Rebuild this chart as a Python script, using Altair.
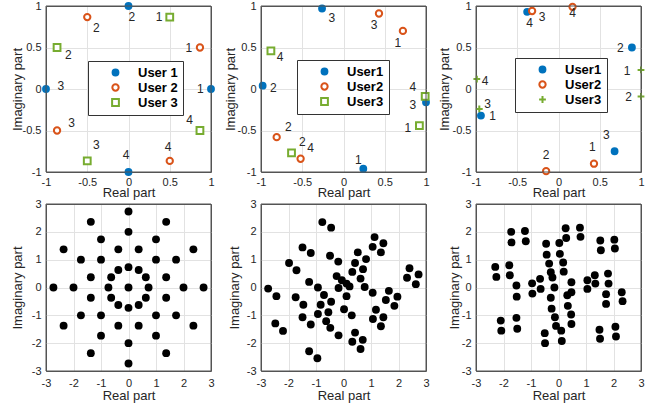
import altair as alt
import pandas as pd

FONT = "Liberation Sans"
TXT = "#262626"
BLUE, ORANGE, GREEN = "#0072BD", "#D95319", "#77AC30"
PLUS = "M-1,0H1M0,-1V1"
FRAME = "#555555"
GRID = "#e2e2e2"

TOP_TICKS = [-1, -0.5, 0, 0.5, 1]
BOT_TICKS = [-3, -2, -1, 0, 1, 2, 3]
POINT_LABELS = ["1", "2", "3", "4"]

# ---- panel 1 ----
P1_USERS = ["User 1", "User 2", "User 3"]
P1_X = [[1.0, 0.0, -1.0, 0.0], [0.866, -0.5, -0.866, 0.5], [0.5, -0.866, -0.5, 0.866]]
P1_Y = [[0.0, 1.0, 0.0, -1.0], [0.5, 0.866, -0.5, -0.866], [0.866, 0.5, -0.866, -0.5]]
P1_LX = [[0.87, 0.04, -0.82, -0.03], [0.73, -0.39, -0.69, 0.48], [0.37, -0.73, -0.39, 0.74]]
P1_LY = [[0.0, 0.87, 0.04, -0.8], [0.49, 0.74, -0.41, -0.7], [0.87, 0.41, -0.68, -0.37]]

# ---- panel 2 ----
P2_USERS = ["User1", "User2", "User3"]
P2_X = [[0.24, -0.98, -0.26, 1.0], [0.72, -0.81, 0.43, -0.52], [0.92, -0.63, 0.99, -0.88]]
P2_Y = [[-0.96, 0.04, 0.97, -0.16], [0.7, -0.58, 0.91, -0.84], [-0.44, -0.77, -0.09, 0.46]]
P2_LX = [[0.18, -0.85, -0.14, 0.84], [0.66, -0.67, 0.37, -0.40], [0.78, -0.50, 0.84, -0.77]]
P2_LY = [[-0.86, 0.01, 0.85, 0.03], [0.56, -0.46, 0.77, -0.71], [-0.47, -0.64, -0.19, 0.39]]

# ---- panel 3 ----
P3_USERS = ["User1", "User2", "User3"]
P3_X = [[-0.94, 0.89, 0.68, -0.38], [0.43, -0.15, -0.32, 0.17], [1.0, 1.0, -0.96, -0.99]]
P3_Y = [[-0.32, 0.5, -0.75, 0.93], [-0.9, -0.99, 0.94, 0.99], [0.23, -0.09, -0.24, 0.12]]
P3_LX = [[-0.8, 0.75, 0.58, -0.35], [0.41, -0.15, -0.2, 0.17], [0.83, 0.85, -0.86, -0.89]]
P3_LY = [[-0.33, 0.5, -0.56, 0.79], [-0.7, -0.79, 0.87, 0.91], [0.22, -0.1, -0.18, 0.1]]

# ---- panel 4 ----
P4_X = [2.73, 2.36, 1.37, 0, -1.37, -2.36, -2.73, -2.36, -1.37, 0, 1.37, 2.36,
        2.0, 1.73, 1.0, 0, -1.0, -1.73, -2.0, -1.73, -1.0, 0, 1.0, 1.73,
        1.37, 1.0, 0.37, -0.37, -1.0, -1.37, -1.37, -1.0, -0.37, 0.37, 1.0, 1.37,
        0.73, 0.63, 0.37, 0, -0.37, -0.63, -0.73, -0.63, -0.37, 0, 0.37, 0.63, 0]
P4_Y = [0, 1.37, 2.36, 2.73, 2.36, 1.37, 0, -1.37, -2.36, -2.73, -2.36, -1.37,
        0, 1.0, 1.73, 2.0, 1.73, 1.0, 0, -1.0, -1.73, -2.0, -1.73, -1.0,
        0.37, 1.0, 1.37, 1.37, 1.0, 0.37, -0.37, -1.0, -1.37, -1.37, -1.0, -0.37,
        0, 0.37, 0.63, 0.73, 0.63, 0.37, 0, -0.37, -0.63, -0.73, -0.63, -0.37, 0]

# ---- panel 5 ----
P5_X = [-0.77, -0.45, -1.49, -1.19, 1.13, 1.45, 1.06, 1.36, -1.98, -1.71,
        -0.49, -0.19, 0.52, 0.82, 0.42, 0.71, 0.32, 0.62,
        -0.25, -0.06, 0.11, 0.22, 2.40, 2.73, 2.31, 2.63,
        -1.25, -0.93, -2.74, -2.44, -0.71, -0.45, -1.74, -1.46,
        -0.18, 0.11, 0.77, 1.06, 1.65, 1.96, 1.54, 1.85,
        -0.83, -0.55, -0.93, -0.63, -1.49, -1.19, 0.02, 0.30,
        -0.48, -0.18, 1.18, 1.45, 1.07, 1.36, -2.48, -2.20,
        0.42, 0.70, 0.32, 0.62, -1.25, -0.95]
P5_Y = [2.35, 2.15, 1.44, 1.24, 1.81, 1.59, 1.46, 1.26, 0.88, 0.62,
        1.14, 0.93, 1.26, 1.02, 0.88, 0.66, 0.56, 0.32,
        0.41, 0.26, 0.14, 0.04, 0.69, 0.47, 0.35, 0.12,
        0.20, 0.0, -0.04, -0.31, -0.27, -0.51, -0.35, -0.62,
        -0.02, -0.31, 0.02, -0.19, -0.12, -0.33, -0.45, -0.66,
        -0.62, -0.89, -0.95, -1.21, -1.07, -1.33, -0.78, -1.0,
        -1.45, -1.72, -0.8, -1.07, -1.13, -1.39, -1.29, -1.56,
        -1.62, -1.88, -1.95, -2.21, -2.29, -2.54]

# ---- panel 6 ----
P6_X = [-2.30, -2.26, -1.79, -1.77, -1.53, -1.52, -0.96, -0.95, -0.67, -0.65,
        -0.45, -0.43, -0.34, -0.28, -0.22, -0.15, -0.28, -0.25, -0.13, -0.09,
        0.10, 0.12, -0.50, -0.49, 0.03, 0.05, 0.17, 0.19, 0.47, 0.47,
        0.32, 0.34, 0.46, 0.47, 0.26, 0.28, 0.78, 0.80, 1.05, 1.05,
        1.32, 1.34, 1.80, 1.82, 1.73, 1.73, 2.30, 2.33, 1.52, 1.54,
        2.03, 2.05, 1.49, 1.51, 2.07, 2.09, -2.10, -2.08, -1.53, -1.50,
        -1.72, -1.71, -1.22, -1.19]
P6_Y = [0.74, 0.38, 0.80, 0.44, 0.07, -0.33, 0.15, -0.22, 0.31, -0.05,
        1.57, 1.18, 0.86, 0.55, 0.36, 0.0, -0.37, -0.76, -1.07, -1.38,
        -1.55, -1.92, -1.64, -2.00, 1.60, 1.21, 0.90, 0.57, 0.19, -0.17,
        -0.28, -0.66, -0.97, -1.31, 2.13, 1.78, 2.15, 1.82, 0.26, -0.05,
        0.44, 0.14, 0.50, 0.14, -0.24, -0.59, -0.17, -0.49, 1.69, 1.34,
        1.72, 1.40, -1.52, -1.84, -1.41, -1.76, -1.19, -1.55, -1.09, -1.48,
        2.00, 1.62, 2.03, 1.66]

W = 165
H_TOP = 166
H_BOT = 167


def grid_color(edge):
    return {"condition": {"test": f"abs(datum.value) >= {edge}", "value": FRAME},
            "value": GRID}


def xaxis(values, width, title_y, pad, edge):
    return alt.Axis(values=values, title="Real part", labelExpr="datum.value + ''",
                    grid=True, gridColor=grid_color(edge), ticks=False, domain=False,
                    labelFlush=False, labelOverlap=False, labelFont=FONT,
                    labelFontSize=11, labelColor=TXT,
                    labelPadding=pad, titleFont=FONT, titleFontSize=13,
                    titleFontWeight="normal", titleColor=TXT, titleX=width / 2,
                    titleY=title_y, titleBaseline="middle", titleAlign="center")


def yaxis(values, height, title_x, edge):
    return alt.Axis(values=values, title="Imaginary part", labelExpr="datum.value + ''",
                    grid=True, gridColor=grid_color(edge), ticks=False, domain=False,
                    labelFlush=False, labelOverlap=False, labelFont=FONT,
                    labelFontSize=11, labelColor=TXT,
                    labelPadding=5, titleFont=FONT, titleFontSize=13,
                    titleFontWeight="normal", titleColor=TXT, titleAngle=270,
                    titleX=title_x, titleY=height / 2, titleBaseline="middle",
                    titleAlign="center")


def frame(height):
    # decorative box around the plot area (styling only, no data)
    return alt.Chart(pd.DataFrame({"f": [0]})).mark_rect(
        fill="transparent", stroke=FRAME, strokeWidth=1
    ).encode(x=alt.value(0), x2=alt.value(W), y=alt.value(0), y2=alt.value(height))


def top_panel(users, X, Y, LX, LY, shapes, sizes, leg_xy, title_x):
    pts, labs = [], []
    for u, xs, ys, lxs, lys in zip(users, X, Y, LX, LY):
        for x, y, lx, ly, t in zip(xs, ys, lxs, lys, POINT_LABELS):
            pts.append({"user": u, "x": x, "y": y})
            labs.append({"x": lx, "y": ly, "t": t})
    sc = alt.Scale(domain=[-1, 1], nice=False, zero=False)
    leg = alt.Legend(title=None, orient="none", legendX=leg_xy[0], legendY=leg_xy[1],
                     fillColor="white", strokeColor="#333333", padding=5,
                     labelFont=FONT, labelFontSize=13, labelFontWeight="bold",
                     labelColor="black", symbolOffset=16, labelOffset=16,
                     rowPadding=0, symbolStrokeWidth=2)
    points = alt.Chart(pd.DataFrame(pts)).mark_point(opacity=1, strokeWidth=2).encode(
        x=alt.X("x:Q", scale=sc, axis=xaxis(TOP_TICKS, W, 20, 4, 1)),
        y=alt.Y("y:Q", scale=sc, axis=yaxis(TOP_TICKS, H_TOP, title_x, 1)),
        shape=alt.Shape("user:N", scale=alt.Scale(domain=users, range=shapes), legend=leg),
        fill=alt.Fill("user:N", scale=alt.Scale(domain=users, range=[BLUE, "white", "white"]), legend=leg),
        stroke=alt.Stroke("user:N", scale=alt.Scale(domain=users, range=[BLUE, ORANGE, GREEN]), legend=leg),
        size=alt.Size("user:N", scale=alt.Scale(domain=users, range=sizes), legend=leg),
    )
    texts = alt.Chart(pd.DataFrame(labs)).mark_text(
        font=FONT, fontSize=12, color=TXT, align="center", baseline="middle"
    ).encode(x="x:Q", y="y:Q", text="t:N")
    return alt.layer(points, texts, frame(H_TOP)).properties(width=W, height=H_TOP)


def bottom_panel(xs, ys, title_x):
    sc = alt.Scale(domain=[-3, 3], nice=False, zero=False)
    df = pd.DataFrame({"x": xs, "y": ys})
    dots = alt.Chart(df).mark_circle(size=62, opacity=1, color="black").encode(
        x=alt.X("x:Q", scale=sc, axis=xaxis(BOT_TICKS, W, 24.5, 6, 3)),
        y=alt.Y("y:Q", scale=sc, axis=yaxis(BOT_TICKS, H_BOT, title_x, 3)),
    )
    return alt.layer(dots, frame(H_BOT)).properties(width=W, height=H_BOT)


p1 = top_panel(P1_USERS, P1_X, P1_Y, P1_LX, P1_LY, ["circle", "circle", "square"],
               [34, 46, 40], (42, 55), -29)
p2 = top_panel(P2_USERS, P2_X, P2_Y, P2_LX, P2_LY, ["circle", "circle", "square"],
               [34, 46, 40], (36, 54), -30.7)
p3 = top_panel(P3_USERS, P3_X, P3_Y, P3_LX, P3_LY, ["circle", "circle", PLUS],
               [34, 46, 60], (39, 52), -31.5)

p4 = bottom_panel(P4_X, P4_Y, -29)
p5 = bottom_panel(P5_X, P5_Y, -26.5)
p6 = bottom_panel(P6_X, P6_Y, -21.5)

chart = alt.concat(p1, p2, p3, p4, p5, p6, columns=3, bounds="flush",
                   spacing={"row": 32, "column": 50}).resolve_scale(
    fill="independent", stroke="independent", shape="independent", size="independent"
).resolve_legend(
    fill="independent", stroke="independent", shape="independent", size="independent"
).properties(
    padding={"left": 10, "top": -2, "right": 5, "bottom": 5}, background="white"
).configure_view(stroke="transparent")

chart.save("out.html", embed_options={"renderer": "svg", "actions": False})
